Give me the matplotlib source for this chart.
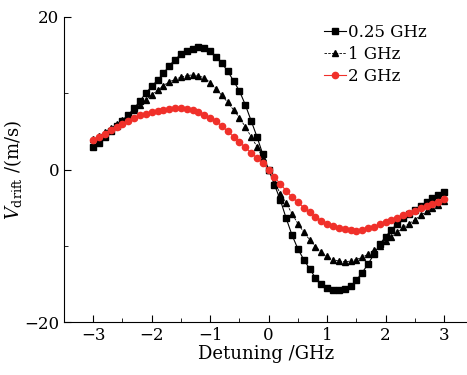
import numpy as np
import matplotlib.pyplot as plt

plt.rcParams['font.family'] = ['DejaVu Serif']
plt.rcParams['mathtext.fontset'] = 'dejavuserif'

# detuning axis, GHz
detuning = np.round(np.arange(-3.0, 3.01, 0.1), 2)

# 0.25 GHz
v_025 = [2.9, 3.5, 4.3, 5.0, 5.7, 6.4, 7.2, 8.0, 9.0, 10.0,
         10.9, 11.7, 12.6, 13.6, 14.4, 15.1, 15.5, 15.8, 16.0, 15.9,
         15.5, 14.8, 13.9, 12.9, 11.6, 10.3, 8.5, 6.4, 4.3, 2.0,
         0.0,
         -2.0, -4.0, -6.4, -8.6, -10.4, -11.8, -13.0, -14.2, -15.0, -15.5,
         -15.8, -15.8, -15.7, -15.3, -14.5, -13.5, -12.4, -11.1, -9.8, -8.8,
         -7.9, -7.1, -6.3, -5.8, -5.3, -4.8, -4.3, -3.8, -3.4, -3.0]

# 1 GHz
v_1 = [4.0, 4.4, 4.9, 5.4, 5.9, 6.5, 7.1, 7.8, 8.5, 9.1,
       9.8, 10.4, 11.0, 11.5, 11.8, 12.1, 12.3, 12.4, 12.3, 12.0,
       11.4, 10.6, 9.7, 8.8, 7.8, 6.8, 5.6, 4.3, 3.0, 1.5,
       0.0,
       -1.6, -3.2, -4.4, -5.8, -7.1, -8.2, -9.2, -10.1, -10.8, -11.4,
       -11.8, -12.0, -12.1, -12.0, -11.8, -11.5, -11.1, -10.6, -10.0, -9.4,
       -8.8, -8.2, -7.6, -7.1, -6.6, -6.0, -5.5, -5.0, -4.6, -4.1]

# 2 GHz
v_2 = [3.9, 4.3, 4.7, 5.2, 5.6, 6.0, 6.4, 6.8, 7.1, 7.3,
       7.5, 7.7, 7.8, 7.9, 8.0, 8.0, 7.9, 7.8, 7.5, 7.2,
       6.8, 6.3, 5.7, 5.0, 4.3, 3.6, 2.9, 2.2, 1.5, 0.8,
       0.0,
       -1.0, -1.9, -2.8, -3.6, -4.3, -5.0, -5.6, -6.2, -6.7, -7.1,
       -7.4, -7.7, -7.8, -7.9, -8.0, -7.9, -7.7, -7.5, -7.2, -6.9,
       -6.6, -6.3, -6.0, -5.7, -5.4, -5.1, -4.8, -4.5, -4.2, -3.9]

fig = plt.figure(figsize=(4.67, 3.75), dpi=100)
ax = fig.add_axes([0.137, 0.141, 0.864, 0.814])

ax.plot(detuning, v_025, color='black', lw=0.8, marker='s', ms=4.5, label='0.25 GHz')
ax.plot(detuning, v_1, color='black', lw=0.6, ls=(0, (3, 1.5)), marker='^', ms=5, label='1 GHz')
ax.plot(detuning, v_2, color='#f0302a', lw=0.8, marker='o', ms=4.5, label='2 GHz')

ax.set_xlim(-3.5, 3.4)
ax.set_ylim(-20, 20)
ax.set_xticks([-3, -2, -1, 0, 1, 2, 3])
ax.set_xticks(np.arange(-2.5, 3.0, 1.0), minor=True)
ax.set_yticks([-20, 0, 20])
ax.set_yticks([-10, 10], minor=True)
ax.spines['top'].set_visible(False)
ax.spines['right'].set_visible(False)
ax.tick_params(direction='in', which='both', labelsize=12)
ax.tick_params(which='major', length=5)
ax.tick_params(which='minor', length=3)

ax.set_xlabel('Detuning /GHz', fontsize=13, labelpad=1)
ax.set_ylabel(r'$V_{\rm drift}$ /(m/s)', fontsize=13, labelpad=0)

ax.legend(loc='upper right', frameon=False, fontsize=12, handlelength=1.3,
          handletextpad=0.1, labelspacing=0.3, borderaxespad=0.0,
          bbox_to_anchor=(0.915, 1.0))

plt.savefig('out.png', dpi=100)
